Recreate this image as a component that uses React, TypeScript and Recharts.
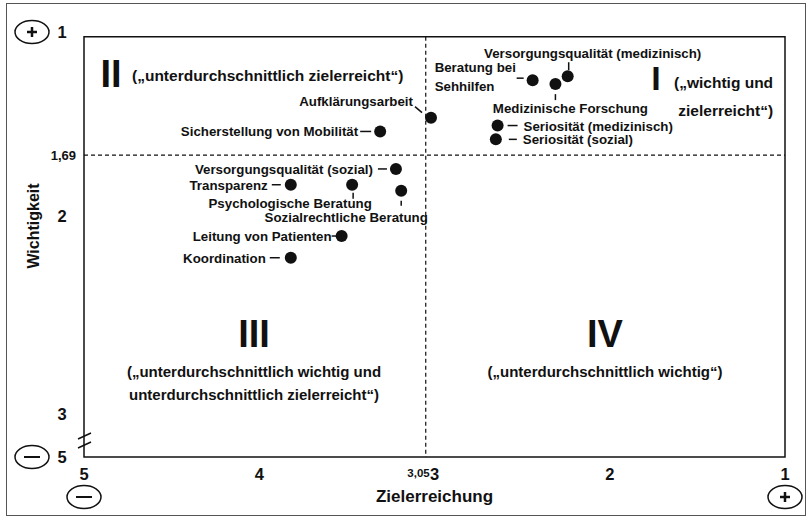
import React from 'react';
import { ScatterChart, Scatter, XAxis, YAxis, ReferenceLine, ReferenceArea, ReferenceDot } from 'recharts';

// Portfolio: Zielerreichung (x, 5 = schlecht .. 1 = gut) vs. Wichtigkeit (y, 1 = wichtig)
const itemNames = [
  'Versorgungsqualität (medizinisch)',
  'Beratung bei\nSehhilfen',
  'Medizinische Forschung',
  'Seriosität (medizinisch)',
  'Seriosität (sozial)',
  'Aufklärungsarbeit',
  'Sicherstellung von Mobilität',
  'Versorgungsqualität (sozial)',
  'Transparenz',
  'Psychologische Beratung',
  'Sozialrechtliche Beratung',
  'Leitung von Patienten',
  'Koordination',
];
const zielerreichung = [2.24, 2.44, 2.31, 2.64, 2.65, 3.02, 3.31, 3.22, 3.82, 3.47, 3.19, 3.53, 3.82];
const wichtigkeit = [1.29, 1.31, 1.33, 1.54, 1.61, 1.5, 1.57, 1.76, 1.84, 1.84, 1.87, 2.1, 2.21];

const MEAN_ZIEL = 3.05;
const MEAN_WICHT = 1.69;
const Y_END = 3.22; // broken axis end, labelled "5"
const FRAME_TOP = 1.09;

const xTicks = [5, 4, 3.05, 3, 2, 1];
const xTickText: Record<string, string> = { '5': '5', '4': '4', '3.05': '3,05', '3': '3', '2': '2', '1': '1' };
const yTicks = [1, 1.69, 2, 3, Y_END];
const yTickText: Record<string, string> = { '1': '1', '1.69': '1,69', '2': '2', '3': '3', '3.22': '5' };

const points = itemNames.map((name, i) => ({ name, x: zielerreichung[i], y: wichtigkeit[i] }));

const INK = '#111';
const FONT = '"Liberation Sans", Arial, sans-serif';

// label placement per item: text offset from the dot and a short leader line
type Place = { anchor: 'start' | 'middle' | 'end'; dx: number; dy: number; leader: number[]; gap?: number };
const placement: Record<string, Place> = {
  'Versorgungsqualität (medizinisch)': { anchor: 'middle', dx: 25, dy: -18, leader: [1, -14, 1, -6] },
  'Beratung bei\nSehhilfen': { anchor: 'start', dx: -98, dy: -8, leader: [-16, -2, -9, -2], gap: 19 },
  'Medizinische Forschung': { anchor: 'middle', dx: 15, dy: 29, leader: [0, 10, 0, 16] },
  'Seriosität (medizinisch)': { anchor: 'start', dx: 26, dy: 5, leader: [10, 0, 20, 0] },
  'Seriosität (sozial)': { anchor: 'start', dx: 27, dy: 5, leader: [13, 0, 21, 0] },
  'Aufklärungsarbeit': { anchor: 'end', dx: -18, dy: -12, leader: [-16, -11, -9, -5] },
  'Sicherstellung von Mobilität': { anchor: 'end', dx: -22, dy: 5, leader: [-20, 0, -9, 0] },
  'Versorgungsqualität (sozial)': { anchor: 'end', dx: -23, dy: 5, leader: [-18, 0, -9, 0] },
  'Transparenz': { anchor: 'end', dx: -23, dy: 5, leader: [-19, 0, -10, 0] },
  'Psychologische Beratung': { anchor: 'middle', dx: -62, dy: 23, leader: [1, 8, 1, 14] },
  'Sozialrechtliche Beratung': { anchor: 'middle', dx: -55, dy: 31, leader: [0, 10, 0, 15] },
  'Leitung von Patienten': { anchor: 'end', dx: -10, dy: 5, leader: [-10, 0, -5, 0] },
  'Koordination': { anchor: 'end', dx: -25, dy: 5, leader: [-21, 0, -11, 0] },
};

// quadrant captions, anchored in data coordinates
const quadrantText = [
  { x: 4.846, y: 1.345, lines: ['II'], size: 38, anchor: 'middle' },
  { x: 4.726, y: 1.314, lines: ['(„unterdurchschnittlich zielerreicht“)'], size: 15.5, anchor: 'start' },
  { x: 1.736, y: 1.36, lines: ['I'], size: 34, anchor: 'middle' },
  { x: 1.068, y: 1.35, lines: ['(„wichtig und', 'zielerreicht“)'], size: 15.5, anchor: 'end', gap: 28 },
  { x: 4.03, y: 2.662, lines: ['III'], size: 38, anchor: 'middle' },
  { x: 4.03, y: 2.814, lines: ['(„unterdurchschnittlich wichtig und', 'unterdurchschnittlich zielerreicht“)'], size: 15, anchor: 'middle', gap: 23 },
  { x: 2.027, y: 2.662, lines: ['IV'], size: 38, anchor: 'middle' },
  { x: 2.027, y: 2.814, lines: ['(„unterdurchschnittlich wichtig“)'], size: 15, anchor: 'middle' },
];

function SignBubble({ cx, cy, sign }: { cx: number; cy: number; sign: '+' | '-' }) {
  return (
    <g>
      <ellipse cx={cx} cy={cy} rx={17} ry={11.5} fill="none" stroke={INK} strokeWidth={1.5} />
      <line x1={cx - (sign === '+' ? 5 : 8)} y1={cy} x2={cx + (sign === '+' ? 5 : 8)} y2={cy} stroke={INK} strokeWidth={sign === '+' ? 2.5 : 2} />
      {sign === '+' && <line x1={cx} y1={cy - 5} x2={cx} y2={cy + 5} stroke={INK} strokeWidth={2.5} />}
    </g>
  );
}

function YTick(props: any) {
  const { payload } = props;
  const v = payload.value;
  // the top label sits at the corner of the frame, as in the original
  const y = v === 1 ? props.y + 13 : props.y;
  const txt = yTickText[String(v)];
  if (v === MEAN_WICHT) {
    return <text x={76} y={y + 4.5} textAnchor="end" fontSize={13} fontWeight={700} fill={INK} fontFamily={FONT}>{txt}</text>;
  }
  return (
    <g>
      {v === 1 && <SignBubble cx={32} cy={y} sign="+" />}
      {v === Y_END && <SignBubble cx={32} cy={y} sign="-" />}
      {v === Y_END && (
        <g stroke={INK} strokeWidth={1.5}>
          <line x1={78} y1={y - 18} x2={91} y2={y - 24} />
          <line x1={78} y1={y - 9} x2={91} y2={y - 15} />
        </g>
      )}
      <text x={62} y={y + 6} textAnchor="middle" fontSize={16.5} fontWeight={700} fill={INK} fontFamily={FONT}>{txt}</text>
    </g>
  );
}

function XTick(props: any) {
  const { x, y, payload } = props;
  const v = payload.value;
  const txt = xTickText[String(v)];
  if (v === MEAN_ZIEL) {
    return <text x={x + 4} y={y + 20} textAnchor="end" fontSize={11.5} fontWeight={700} fill={INK} fontFamily={FONT}>{txt}</text>;
  }
  return (
    <g>
      <text x={x} y={y + 23} textAnchor="middle" fontSize={16.5} fontWeight={700} fill={INK} fontFamily={FONT}>{txt}</text>
      {v === 5 && <SignBubble cx={x} cy={y + 40} sign="-" />}
      {v === 1 && <SignBubble cx={x} cy={y + 40} sign="+" />}
    </g>
  );
}

function ItemDot(props: any) {
  const { cx, cy, payload } = props;
  const p = placement[payload.name];
  const lines = payload.name.split('\n');
  const [a, b, c, d] = p.leader;
  return (
    <g>
      <circle cx={cx} cy={cy} r={6} fill={INK} />
      <line x1={cx + a} y1={cy + b} x2={cx + c} y2={cy + d} stroke={INK} strokeWidth={1.5} />
      <text x={cx + p.dx} y={cy + p.dy} textAnchor={p.anchor} fontSize={13.3} fontWeight={700} fill={INK} fontFamily={FONT}>
        {lines.map((l: string, i: number) => (
          <tspan key={i} x={cx + p.dx} dy={i === 0 ? 0 : p.gap}>{l}</tspan>
        ))}
      </text>
    </g>
  );
}

function QuadCaption({ viewBox, q }: any) {
  const { x, y } = viewBox;
  return (
    <text x={x} y={y} textAnchor={q.anchor} fontSize={q.size} fontWeight={700} fill={INK} fontFamily={FONT}>
      {q.lines.map((l: string, i: number) => (
        <tspan key={i} x={x} dy={i === 0 ? 0 : q.gap}>{l}</tspan>
      ))}
    </text>
  );
}

export default function App() {
  return (
    <div style={{ position: 'relative', width: 810, height: 520, background: '#fff', fontFamily: FONT }}>
      <style>{'body{margin:0}'}</style>
      <div style={{ position: 'absolute', left: 6, top: 3, width: 800, height: 513, border: '1.5px solid #555', boxSizing: 'border-box' }} />
      <ScatterChart width={810} height={520} margin={{ top: 19, right: 25, bottom: 0, left: 0 }} style={{ position: 'absolute', left: 0, top: 0 }}>
        <XAxis
          type="number"
          dataKey="x"
          domain={[1, 5]}
          reversed
          ticks={xTicks}
          interval={0}
          height={63}
          axisLine={false}
          tickLine={false}
          tickSize={0}
          tickMargin={0}
          tick={<XTick />}
          label={{
            content: (p: any) => (
              <text x={p.viewBox.x + p.viewBox.width / 2} y={p.viewBox.y + 45} textAnchor="middle" fontSize={17} fontWeight={700} fill={INK} fontFamily={FONT}>
                Zielerreichung
              </text>
            ),
          }}
        />
        <YAxis
          type="number"
          dataKey="y"
          domain={[1, Y_END]}
          reversed
          ticks={yTicks}
          interval={0}
          width={84}
          axisLine={false}
          tickLine={false}
          tickSize={0}
          tickMargin={0}
          tick={<YTick />}
          label={{
            content: (p: any) => {
              const cy = p.viewBox.y + p.viewBox.height / 2 - 12;
              return (
                <text x={33} y={cy} transform={`rotate(-90 33 ${cy})`} textAnchor="middle" dominantBaseline="central" fontSize={16} fontWeight={700} fill={INK} fontFamily={FONT}>
                  Wichtigkeit
                </text>
              );
            },
          }}
        />
        <ReferenceArea x1={5} x2={1} y1={FRAME_TOP} y2={Y_END} fill="none" stroke={INK} strokeWidth={1.5} />
        <ReferenceLine y={MEAN_WICHT} stroke={INK} strokeWidth={1.2} strokeDasharray="4 3" />
        <ReferenceLine segment={[{ x: MEAN_ZIEL, y: FRAME_TOP }, { x: MEAN_ZIEL, y: Y_END }]} stroke={INK} strokeWidth={1.2} strokeDasharray="4 3" />
        {quadrantText.map((q, i) => (
          <ReferenceDot key={i} x={q.x} y={q.y} r={0} fill="none" stroke="none" label={(p: any) => <QuadCaption viewBox={p.viewBox} q={q} />} />
        ))}
        <Scatter data={points} shape={<ItemDot />} isAnimationActive={false} />
      </ScatterChart>
    </div>
  );
}
